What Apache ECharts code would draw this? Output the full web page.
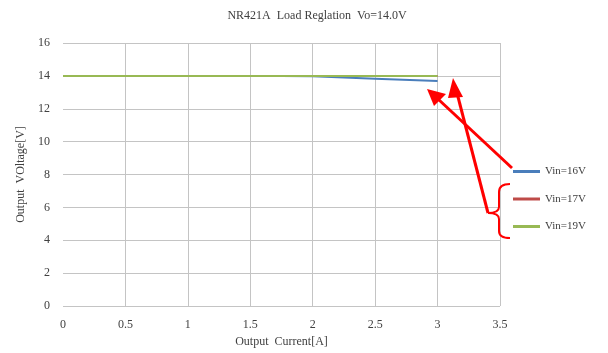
<!DOCTYPE html>
<html><head><meta charset="utf-8">
<script src="https://cdn.jsdelivr.net/npm/echarts@6/dist/echarts.min.js"></script>
<style>html,body{margin:0;padding:0;background:#fff}#c{width:608px;height:353px}</style>
</head><body><div id="c"></div>
<script>
var current = [0, 0.5, 1, 1.5, 2, 2.5, 3];
var vin16 = [14.0, 14.0, 14.0, 14.0, 13.97, 13.83, 13.69];
var vin17 = [14.0, 14.0, 14.0, 14.0, 14.0, 14.0, 14.0];
var vin19 = [14.0, 14.0, 14.0, 14.0, 14.0, 14.0, 14.0];
var seriesNames = ['Vin=16V', 'Vin=17V', 'Vin=19V'];
var titleText = 'NR421A  Load Reglation  Vo=14.0V';
var xName = 'Output  Current[A]';
var yName = 'Output  VOltage[V]';

function pairs(arr){ return current.map(function(x,i){ return [x, arr[i]]; }); }
var font = '"Liberation Serif", "DejaVu Serif", serif';
var txt = '#404040';
var chart = echarts.init(document.getElementById('c'));
var red = '#ff0000';
var braceStyle = { stroke: red, lineWidth: 2, fill: null };
chart.setOption({
  animation: false,
  title: { text: titleText, left: 312, textAlign: 'center', top: 5,
    textStyle: { fontFamily: font, fontSize: 12, fontWeight: 'normal', color: txt } },
  grid: { left: 63, right: 108, top: 43, bottom: 46 },
  legend: { orient: 'vertical', left: 508, top: 161, itemGap: 16.5, itemWidth: 27, itemHeight: 3,
    icon: 'rect', data: seriesNames,
    textStyle: { fontFamily: font, fontSize: 11, color: txt } },
  xAxis: { type: 'value', min: 0, max: 3.5, interval: 0.5,
    name: xName, nameLocation: 'middle', nameGap: 30,
    nameTextStyle: { fontFamily: font, fontSize: 12, color: txt },
    axisLine: { show: false }, axisTick: { show: false },
    axisLabel: { fontFamily: font, fontSize: 12, color: txt, margin: 13 },
    splitLine: { show: true, showMinLine: false, lineStyle: { color: '#c4c4c4', width: 1 } } },
  yAxis: { type: 'value', min: 0, max: 16, interval: 2,
    name: yName, nameLocation: 'middle', nameGap: 34,
    nameTextStyle: { fontFamily: font, fontSize: 12, color: txt },
    axisLine: { show: false }, axisTick: { show: false },
    axisLabel: { fontFamily: font, fontSize: 12, color: txt, margin: 13 },
    splitLine: { show: true, lineStyle: { color: '#c4c4c4', width: 1 } } },
  series: [
    { name: seriesNames[0], type: 'line', data: pairs(vin16), showSymbol: false, color: '#4a7ebb', lineStyle: { width: 2 }, z: 2 },
    { name: seriesNames[1], type: 'line', data: pairs(vin17), showSymbol: false, color: '#be4b48', lineStyle: { width: 2 }, z: 3 },
    { name: seriesNames[2], type: 'line', data: pairs(vin19), showSymbol: false, color: '#98b954', lineStyle: { width: 2 }, z: 4 }
  ],
  graphic: [
    { type: 'line', shape: { x1: 512, y1: 168, x2: 438, y2: 99 }, style: { stroke: red, lineWidth: 3 }, z: 100 },
    { type: 'polygon', shape: { points: [[427, 89], [446, 94], [434, 106]] }, style: { fill: red }, z: 100 },
    { type: 'line', shape: { x1: 488, y1: 213, x2: 457, y2: 93 }, style: { stroke: red, lineWidth: 3 }, z: 100 },
    { type: 'polygon', shape: { points: [[453, 78], [463, 97], [448, 98]] }, style: { fill: red }, z: 100 },
    { type: 'bezierCurve', shape: { x1: 510, y1: 184, cpx1: 499, cpy1: 184, x2: 499, y2: 192 }, style: braceStyle, z: 100 },
    { type: 'line', shape: { x1: 499, y1: 192, x2: 499, y2: 207 }, style: braceStyle, z: 100 },
    { type: 'bezierCurve', shape: { x1: 499, y1: 207, cpx1: 499, cpy1: 213, x2: 488, y2: 213 }, style: braceStyle, z: 100 },
    { type: 'bezierCurve', shape: { x1: 488, y1: 213, cpx1: 499, cpy1: 213, x2: 499, y2: 219 }, style: braceStyle, z: 100 },
    { type: 'line', shape: { x1: 499, y1: 219, x2: 499, y2: 231 }, style: braceStyle, z: 100 },
    { type: 'bezierCurve', shape: { x1: 499, y1: 231, cpx1: 499, cpy1: 238, x2: 510, y2: 238 }, style: braceStyle, z: 100 }
  ]
});
</script></body></html>
